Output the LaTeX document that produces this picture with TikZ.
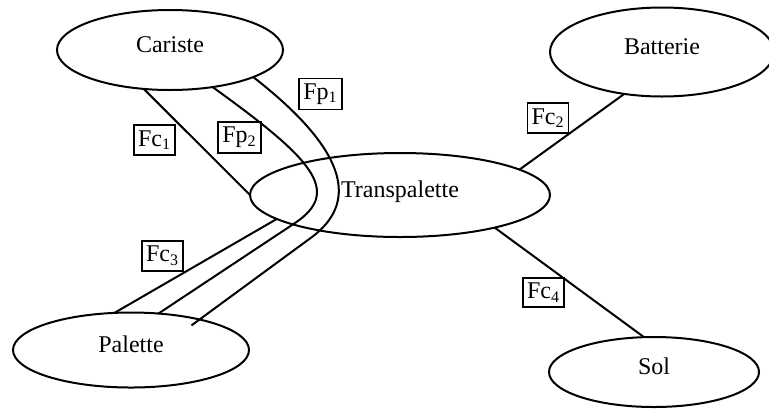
\documentclass[tikz,border=0pt,12pt]{standalone}
\usepackage{fontspec}
\setmainfont{Liberation Serif}
\usetikzlibrary{shapes}

\begin{document}
\begin{tikzpicture}[x=0.5pt,y=-0.5pt,line width=1pt]
  \tikzstyle{actor}=[ellipse,draw,inner sep=0pt,outer sep=0pt,text height=8pt,text depth=6pt]
  \tikzstyle{force}=[rectangle,draw,line width=0.9pt,inner xsep=2pt,inner ysep=2.5pt]
  \useasboundingbox (0,0) rectangle (769,408);
    \node [actor,minimum width=113pt,minimum height=40pt] (cariste) at (170,50) {Cariste};
    \node [actor,minimum width=112pt,minimum height=44.5pt] (batterie) at (662,52) {Batterie};
    \node [actor,minimum width=150pt,minimum height=42pt] (transpalette) at (400,195) {Transpalette};
    \node [actor,minimum width=118pt,minimum height=37.5pt] (palette) at (131,350) {Palette};
    \node [actor,minimum width=105pt,minimum height=35pt] (sol) at (654,372) {Sol};
    \draw (cariste.236) -- (transpalette.west);
    \draw (transpalette.12) -- (batterie.228);
    \draw (transpalette.191) -- (palette.114);
    \draw (transpalette.-19) -- (sol.106);
    \draw (cariste.-41) .. controls (311,158) and (343,191) .. (295,223) -- (palette.53);
    \draw [shorten >=-5pt] (cariste.-18) .. controls (352,154) and (356,204) .. (312,237) -- (palette.24);
    \node [force] (fc1) at (154.5,140) {Fc\textsubscript{1}};
    \node [force] (fp2) at (239.5,137.5) {Fp\textsubscript{2}};
    \node [force] (fp1) at (320.5,94) {Fp\textsubscript{1}};
    \node [force] (fc3) at (162.5,256) {Fc\textsubscript{3}};
    \node [force] (fc2) at (548,118) {Fc\textsubscript{2}};
    \node [force] (fc4) at (543.5,292.5) {Fc\textsubscript{4}};
\end{tikzpicture}
\end{document}
